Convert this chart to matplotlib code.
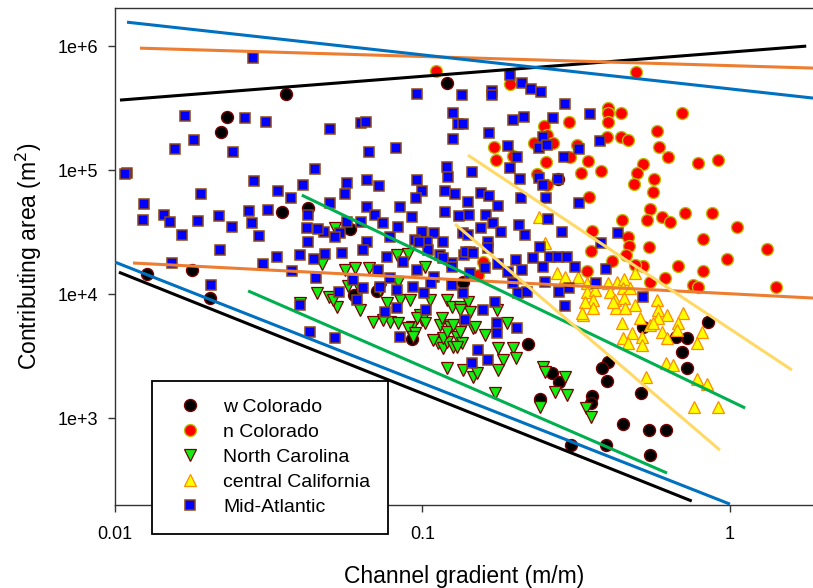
import matplotlib
matplotlib.use("Agg")
import matplotlib.pyplot as plt

plt.rcParams['font.family'] = ['Liberation Sans', 'DejaVu Sans']

# ---------------- data ----------------
wco_x = [0.120, 0.036, 0.0231, 0.0221, 0.0349, 0.0424, 0.0581, 0.0127, 0.0178, 0.0204,
         0.0599, 0.0711, 0.135, 0.0925, 0.220, 0.264, 0.278, 0.241, 0.304, 0.356,
         0.353, 0.401, 0.384, 0.398, 0.395, 0.449, 0.514, 0.545, 0.619, 0.549,
         0.725, 0.698, 0.725, 0.667, 0.848, 0.521, 0.276]
wco_y = [5.03e5, 4.10e5, 2.68e5, 2.03e5, 4.58e4, 4.94e4, 3.34e4, 1.45e4, 1.56e4, 9.28e3,
         9.8e3, 1.06e4, 1.25e4, 4.34e3, 3.95e3, 2.31e3, 1.95e3, 1.42e3, 606, 1.50e3,
         1.32e3, 2.83e3, 2.53e3, 1.99e3, 606, 894, 1.59e3, 800, 800, 503,
         2.53e3, 3.40e3, 4.42e3, 4.50e3, 5.94e3, 5.42e3, 8.46e4]

nco_x = [0.1106, 0.4946, 0.1926, 0.401, 0.401, 0.442, 0.698, 0.2995, 0.401, 0.2484,
         0.5787, 0.2541, 0.442, 0.4658, 0.398, 0.2305, 0.2656, 0.318, 0.1708, 0.5875,
         0.197, 0.3018, 0.6285, 0.1734, 0.3453, 0.2522, 0.7868, 0.9142, 0.5214, 0.3806,
         0.3277, 0.4983, 0.2358, 0.4873, 0.2541, 0.5658, 0.5616, 0.3479, 0.5494, 0.4454,
         0.5373, 0.601, 0.6381, 0.714, 0.8739, 1.054, 0.3557, 0.4658, 0.4693, 0.5453,
         0.8169, 1.319, 0.3532, 0.459, 0.4133, 0.9777, 0.6774, 0.5214, 0.4909, 0.8169,
         0.3428, 0.6147, 0.5494, 0.7582, 0.7868, 1.411, 0.1573, 0.1516]
nco_y = [6.29e5, 6.17e5, 4.94e5, 3.16e5, 2.88e5, 2.88e5, 2.88e5, 2.44e5, 2.44e5, 2.26e5,
         2.06e5, 1.92e5, 1.85e5, 1.75e5, 1.85e5, 1.65e5, 1.65e5, 1.59e5, 1.53e5, 1.53e5,
         1.30e5, 1.27e5, 1.27e5, 1.20e5, 1.18e5, 1.16e5, 1.14e5, 1.20e5, 1.12e5, 9.8e4,
         9.46e4, 9.46e4, 9.29e4, 7.71e4, 7.57e4, 8.46e4, 6.65e4, 6.06e4, 4.85e4, 3.95e4,
         3.95e4, 4.18e4, 3.81e4, 4.50e4, 4.50e4, 3.47e4, 3.22e4, 2.88e4, 2.44e4, 2.39e4,
         2.78e4, 2.31e4, 2.22e4, 2.06e4, 1.85e4, 1.92e4, 1.68e4, 1.68e4, 1.71e4, 1.53e4,
         1.53e4, 1.35e4, 1.25e4, 1.18e4, 1.14e4, 1.14e4, 1.81e4, 1.42e4]

nc_x = [0.0519, 0.0471, 0.0454, 0.0497, 0.0527, 0.0560, 0.0573, 0.0603, 0.0670, 0.0767,
        0.0784, 0.0832, 0.0690, 0.0744, 0.0826, 0.0897, 0.1019, 0.0832, 0.0982, 0.100,
        0.0925, 0.1202, 0.1247, 0.1324, 0.1406, 0.1427, 0.1228, 0.114, 0.1354, 0.0512,
        0.0897, 0.0945, 0.0931, 0.1019, 0.1157, 0.0960, 0.1123, 0.1166, 0.1202, 0.1257,
        0.1166, 0.1295, 0.1344, 0.1202, 0.1324, 0.146, 0.1202, 0.1354, 0.146, 0.1257,
        0.1324, 0.1482, 0.1597, 0.1761, 0.1827, 0.197, 0.2015, 0.1761, 0.1504, 0.1721,
        0.241, 0.2466, 0.2503, 0.2697, 0.2951, 0.2907, 0.3403, 0.3532, 0.1295, 0.1747,
        0.1883, 0.040, 0.1082, 0.0626, 0.0728, 0.0845, 0.1058, 0.0911, 0.0626]
nc_y = [3.41e4, 1.75e4, 1.02e4, 9.46e3, 7.86e3, 1.56e4, 1.16e4, 1.62e4, 1.62e4, 8.46e3,
        5.94e3, 5.83e3, 5.94e3, 6.17e3, 2.06e4, 2.10e4, 1.65e4, 1.25e4, 6.77e3, 6.17e3,
        5.42e3, 8.95e3, 7.86e3, 7.86e3, 8.62e3, 7.16e3, 5.42e3, 5.62e3, 5.62e3, 8.95e3,
        5.32e3, 4.85e3, 4.50e3, 5.83e3, 6.40e3, 6.40e3, 4.03e3, 3.67e3, 4.10e3, 3.74e3,
        4.42e3, 4.50e3, 4.03e3, 4.94e3, 4.94e3, 5.32e3, 2.53e3, 2.44e3, 2.14e3, 5.62e3,
        7.43e3, 5.42e3, 4.67e3, 3.67e3, 2.94e3, 3.67e3, 3.05e3, 2.44e3, 2.31e3, 1.59e3,
        1.23e3, 2.58e3, 2.35e3, 1.62e3, 1.53e3, 2.14e3, 1.20e3, 1.02e3, 3.74e3, 7.43e3,
        5.83e3, 8.46e3, 4.26e3, 1.08e4, 1.08e4, 8.95e3, 8.95e3, 8.95e3, 7.43e3]

cca_x = [0.2392, 0.2737, 0.2907, 0.3205, 0.3428, 0.4012, 0.4291, 0.4522, 0.4909, 0.3428,
         0.3639, 0.3585, 0.3377, 0.3585, 0.3327, 0.4072, 0.4487, 0.4227, 0.4522, 0.4259,
         0.4556, 0.4909, 0.5097, 0.4454, 0.48, 0.4487, 0.4658, 0.5174, 0.5174, 0.4729,
         0.5787, 0.5832, 0.6241, 0.7036, 0.5832, 0.5494, 0.6774, 0.6724, 0.601, 0.6241,
         0.8108, 0.7811, 0.6194, 0.6524, 0.5334, 0.7811, 0.8416, 0.7638, 0.9142, 0.5616,
         0.4164, 0.3302, 0.2503]
cca_y = [4.18e4, 1.48e4, 1.37e4, 1.37e4, 1.23e4, 1.23e4, 1.25e4, 1.32e4, 1.48e4, 1.04e4,
         1.08e4, 8.95e3, 8.62e3, 7.71e3, 6.77e3, 1.04e4, 1.12e4, 8.95e3, 9.28e3, 7.71e3,
         7.71e3, 8.15e3, 6.40e3, 5.83e3, 4.85e3, 4.42e3, 4.03e3, 4.50e3, 3.88e3, 1.12e4,
         8.95e3, 7.43e3, 6.77e3, 7.03e3, 6.40e3, 5.62e3, 5.83e3, 5.13e3, 4.94e3, 4.42e3,
         4.94e3, 4.03e3, 2.78e3, 2.68e3, 2.14e3, 2.06e3, 1.88e3, 1.23e3, 1.23e3, 5.83e3,
         8.62e3, 7.03e3, 2.58e4]

mid_x = [0.0281, 0.0169, 0.0265, 0.0310, 0.0500, 0.0631, 0.0655, 0.0960, 0.1256, 0.1304,
         0.1256, 0.0820, 0.0670, 0.0181, 0.0157, 0.0242, 0.0109, 0.0108, 0.0447, 0.1202,
         0.1211, 0.0283, 0.0409, 0.0568, 0.0660, 0.0721, 0.0960, 0.0993, 0.0953, 0.1184,
         0.1275, 0.0339, 0.0374, 0.0191, 0.0124, 0.0560, 0.0500, 0.0660, 0.0700, 0.0845,
         0.0925, 0.1184, 0.0144, 0.0151, 0.0123, 0.0186, 0.0218, 0.0273, 0.0315, 0.0240,
         0.0279, 0.0294, 0.0165, 0.0425, 0.0421, 0.0479, 0.0425, 0.0568, 0.0631, 0.0744,
         0.0832, 0.0993, 0.1094, 0.1166, 0.0458, 0.0539, 0.0519, 0.0660, 0.0784, 0.0945,
         0.1038, 0.0220, 0.0336, 0.0400, 0.0444, 0.0482, 0.0303, 0.0153, 0.0376, 0.0451,
         0.0205, 0.1406, 0.1314, 0.1416, 0.0640, 0.0547, 0.0767, 0.0864, 0.0960, 0.1094,
         0.1062, 0.0784, 0.0716, 0.0727, 0.0826, 0.0931, 0.1015, 0.0826, 0.0755, 0.0535,
         0.0612, 0.0640, 0.0594, 0.0400, 0.1247, 0.1354, 0.1030, 0.1375, 0.1046, 0.1140,
         0.1247, 0.1364, 0.1427, 0.1354, 0.0974, 0.1926, 0.2107, 0.2253, 0.2428, 0.1683,
         0.1683, 0.1344, 0.2907, 0.3505, 0.1970, 0.2139, 0.2657, 0.1354, 0.1646, 0.1897,
         0.2030, 0.2466, 0.2392, 0.2541, 0.2885, 0.3226, 0.3777, 0.1926, 0.2076, 0.2392,
         0.2466, 0.2759, 0.2092, 0.2522, 0.3226, 0.1448, 0.1550, 0.1646, 0.1761, 0.1609,
         0.1696, 0.2061, 0.2560, 0.1550, 0.1800, 0.2155, 0.2842, 0.1406, 0.1633, 0.1633,
         0.1385, 0.1460, 0.1597, 0.1761, 0.1897, 0.1427, 0.1721, 0.1573, 0.1747, 0.2030,
         0.2410, 0.2287, 0.2599, 0.2759, 0.2951, 0.2466, 0.3131, 0.2107, 0.2503, 0.1970,
         0.2045, 0.2187, 0.2779, 0.2995, 0.2907, 0.3806, 0.4327, 0.3953, 0.3665, 0.5214,
         0.1166, 0.1247, 0.2015, 0.0431, 0.0519, 0.0845, 0.1448, 0.1747, 0.1516, 0.1633]
mid_y = [8.0e5, 2.73e5, 2.63e5, 2.44e5, 2.14e5, 2.39e5, 2.44e5, 4.10e5, 2.88e5, 2.35e5,
         1.78e5, 1.50e5, 1.40e5, 1.75e5, 1.48e5, 1.40e5, 9.46e4, 9.29e4, 1.02e5, 1.06e5,
         8.78e4, 8.15e4, 7.57e4, 7.86e4, 8.31e4, 7.43e4, 8.31e4, 6.77e4, 5.95e4, 6.77e4,
         6.40e4, 6.77e4, 5.95e4, 6.40e4, 5.32e4, 6.40e4, 5.42e4, 5.03e4, 4.34e4, 5.03e4,
         4.18e4, 4.58e4, 4.34e4, 3.81e4, 3.95e4, 3.88e4, 4.26e4, 4.67e4, 4.76e4, 3.47e4,
         3.74e4, 2.94e4, 2.99e4, 4.34e4, 3.41e4, 3.16e4, 2.63e4, 3.81e4, 3.81e4, 3.74e4,
         3.47e4, 3.16e4, 3.10e4, 2.63e4, 3.34e4, 3.10e4, 2.88e4, 2.63e4, 2.88e4, 2.73e4,
         2.63e4, 2.26e4, 1.99e4, 2.06e4, 1.92e4, 2.10e4, 1.75e4, 1.78e4, 1.53e4, 1.35e4,
         1.18e4, 5.52e4, 4.26e4, 4.34e4, 2.26e4, 2.14e4, 1.99e4, 1.81e4, 1.56e4, 1.37e4,
         1.23e4, 1.35e4, 1.56e4, 1.14e4, 1.08e4, 1.14e4, 1.02e4, 7.71e3, 7.16e3, 1.04e4,
         8.95e3, 1.12e4, 1.30e4, 8.15e3, 1.18e4, 1.02e4, 7.43e3, 6.17e3, 2.26e4, 2.06e4,
         1.78e4, 2.06e4, 2.18e4, 3.10e4, 2.63e4, 5.84e5, 5.03e5, 4.50e5, 4.26e5, 4.34e5,
         4.03e5, 4.03e5, 3.41e5, 2.83e5, 2.53e5, 2.68e5, 2.63e5, 2.35e5, 1.99e5, 1.56e5,
         1.27e5, 1.85e5, 1.50e5, 1.59e5, 1.27e5, 1.48e5, 1.71e5, 1.04e5, 8.46e4, 8.62e4,
         7.57e4, 8.46e4, 5.95e4, 5.95e4, 5.42e4, 9.63e4, 6.52e4, 6.17e4, 5.13e4, 4.34e4,
         3.74e4, 3.60e4, 4.03e4, 3.41e4, 3.16e4, 2.99e4, 3.16e4, 2.99e4, 2.63e4, 2.35e4,
         2.18e4, 2.14e4, 1.62e4, 1.75e4, 1.50e4, 1.48e4, 8.62e3, 7.43e3, 5.83e3, 5.32e3,
         2.39e4, 1.95e4, 1.99e4, 1.99e4, 1.99e4, 1.65e4, 1.65e4, 1.56e4, 1.25e4, 1.23e4,
         1.02e4, 1.04e4, 1.04e4, 1.12e4, 8.0e3, 2.58e4, 3.10e4, 1.59e4, 1.23e4, 9.46e3,
         1.95e4, 1.65e4, 1.88e4, 4.94e3, 4.42e3, 4.50e3, 2.78e3, 4.85e3, 3.54e3, 2.94e3]

# envelope lines: name, colour, (x0, x1), (y0, y1)
line_names = ["black_upper", "orange_upper", "blue_upper", "black_lower", "blue_lower",
              "orange_lower", "green_upper", "green_lower", "yellow_upper", "yellow_lower"]
line_colors = ["#000000", "#ED7D31", "#0070C0", "#000000", "#0070C0",
               "#ED7D31", "#00B050", "#00B050", "#FFD966", "#FFD966"]
line_x = [(0.01038, 1.77), (0.01206, 1.862), (0.01094, 1.862), (0.0103, 0.751), (0.0100, 1.0),
          (0.01144, 1.862), (0.0405, 1.12), (0.0271, 0.624), (0.1406, 1.59), (0.1276, 0.927)]
line_y = [(3.67e5, 1.0e6), (9.63e5, 6.65e5), (1.56e6, 3.81e5), (1.50e4, 214), (1.81e4, 202),
          (1.78e4, 9.29e3), (6.28e4, 1205), (1.06e4, 360), (1.32e5, 2440), (3.67e4, 552)]

x_ticks = [0.01, 0.1, 1]
x_ticklabels = ["0.01", "0.1", "1"]
y_ticks = [1e3, 1e4, 1e5, 1e6]
y_ticklabels = ["1e+3", "1e+4", "1e+5", "1e+6"]

# ---------------- figure ----------------
fig = plt.figure(figsize=(8.13, 5.88), dpi=100)
ax = fig.add_axes([115 / 813, 83 / 588, 698 / 813, 497 / 588])
ax.set_xscale("log")
ax.set_yscale("log")

ax.plot(wco_x, wco_y, ls="none", marker="o", ms=8.6, mfc="black", mec="#7a0000", mew=1.0,
        label="w Colorado", zorder=2)
ax.plot(nco_x, nco_y, ls="none", marker="o", ms=8.6, mfc="#ff0000", mec="#bdbd00", mew=1.0,
        label="n Colorado", zorder=2)
ax.plot(nc_x, nc_y, ls="none", marker="v", ms=8.8, mfc="#11ee11", mec="#7a0000", mew=0.9,
        label="North Carolina", zorder=2)
ax.plot(cca_x, cca_y, ls="none", marker="^", ms=8.8, mfc="#ffff00", mec="#ff8c00", mew=0.9,
        label="central California", zorder=2)
ax.plot(mid_x, mid_y, ls="none", marker="s", ms=7.6, mfc="#0000ff", mec="#8B4513", mew=1.1,
        label="Mid-Atlantic", zorder=2)

for nm, c, xs, ys in zip(line_names, line_colors, line_x, line_y):
    ax.plot(xs, ys, color=c, lw=2.2, solid_capstyle="butt", zorder=3)

ax.set_xlim(0.01, 1.862)
ax.set_ylim(198.8, 2.03e6)
ax.set_xticks(x_ticks)
ax.set_xticklabels(x_ticklabels)
ax.set_yticks(y_ticks)
ax.set_yticklabels(y_ticklabels)
ax.minorticks_off()
ax.tick_params(axis="both", which="major", direction="out", length=5, width=1.0,
               labelsize=13, pad=7, color="#333333")
ax.tick_params(axis="x", pad=10)
for s in ["left", "bottom", "top"]:
    ax.spines[s].set_linewidth(1.0)
    ax.spines[s].set_color("#333333")
ax.spines["right"].set_visible(False)

ax.set_xlabel("Channel gradient (m/m)", fontsize=16.5, labelpad=16)
ax.set_ylabel("Contributing area (m$^2$)", fontsize=16.5, labelpad=10)

leg = ax.legend(loc="upper left", bbox_to_anchor=(152 / 813, 1 - 381 / 588),
                bbox_transform=fig.transFigure, borderaxespad=0, fontsize=14,
                frameon=True, fancybox=False, framealpha=1, edgecolor="black",
                borderpad=0.9, handlelength=2.1, handletextpad=0.65, labelspacing=0.38,
                numpoints=1)
leg.get_frame().set_linewidth(1.3)
leg.set_zorder(10)

fig.savefig("out.png", dpi=100)
